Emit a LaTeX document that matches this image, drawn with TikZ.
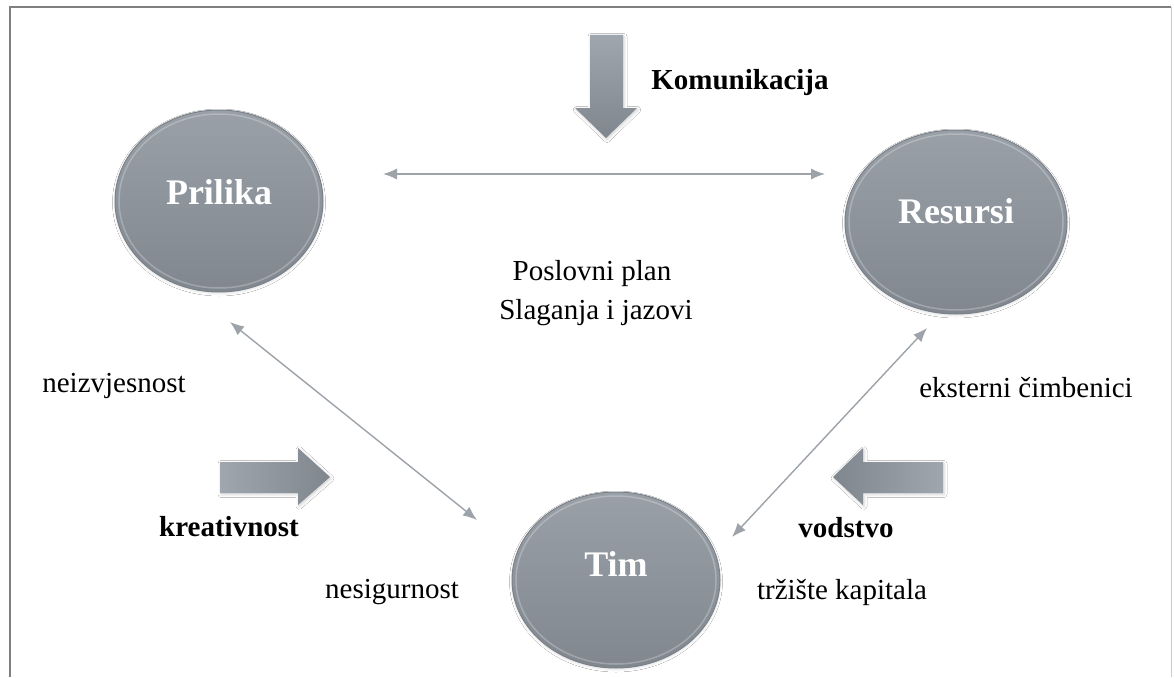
\documentclass[tikz,border=0pt]{standalone}
\usepackage{fontspec}
\setmainfont{Liberation Serif}
\usetikzlibrary{arrows.meta,shapes.geometric,shadows.blur}
\definecolor{ballt}{HTML}{99A0A8}
\definecolor{ballb}{HTML}{80878F}
\definecolor{balledge}{HTML}{7A8189}
\definecolor{connc}{HTML}{9DA3A9}
\definecolor{blockl}{HTML}{A0A6AD}
\definecolor{blockd}{HTML}{7F868E}
\definecolor{framec}{HTML}{7F7F7F}
\tikzset{
  ball/.style={ellipse, draw=balledge, line width=1pt, top color=ballt, bottom color=ballb,
    blur shadow={shadow xshift=0pt, shadow yshift=-1.5pt, shadow blur radius=2.5pt, shadow opacity=12}},
  balltext/.style={text=white, font=\fontsize{36}{40}\selectfont\bfseries},
  rim/.style={draw=white, draw opacity=0.25, line width=1.5pt},
  conn/.style={draw=connc, line width=1.4pt, {Latex[length=14pt,width=11pt]}-{Latex[length=14pt,width=11pt]}},
  blockarrow/.style={draw=none, blur shadow={shadow xshift=1pt, shadow yshift=-1.5pt, shadow blur radius=3pt, shadow opacity=18}},
  lab/.style={text=black, font=\fontsize{29}{34}\selectfont, inner sep=0pt},
  blab/.style={lab, font=\fontsize{29}{34}\selectfont\bfseries},
}
\begin{document}
\begin{tikzpicture}[x=1pt,y=-1pt]
\useasboundingbox (0,0) rectangle (1174,677);
\fill[white] (0,0) rectangle (1174,677);
% frame
\draw[framec, line width=2pt] (10,677) -- (10,7) -- (1171,7);
\draw[framec!40, line width=1pt] (1171,7) -- (1171,677);

% circles
\node[ball, minimum width=208pt, minimum height=182pt,
  label={[balltext, yshift=9pt]center:Prilika}] (P) at (219,201) {};
\node[ball, minimum width=222pt, minimum height=184pt,
  label={[balltext, yshift=11pt]center:Resursi}] (R) at (956,222) {};
\node[ball, minimum width=208pt, minimum height=176pt,
  label={[balltext, yshift=16pt]center:Tim}] (T) at (616,580) {};
\draw[rim] (P.center) ellipse [x radius=100pt, y radius=87pt];
\draw[rim] (R.center) ellipse [x radius=107pt, y radius=88pt];
\draw[rim] (T.center) ellipse [x radius=100pt, y radius=84pt];

% thin connectors
\coordinate (a1) at (383,174);
\coordinate (a2) at (825,174);
\coordinate (b1) at (230,322);
\coordinate (b2) at (477,520);
\coordinate (c1) at (927,328);
\coordinate (c2) at (732,537);
\draw[conn] (a1) -- (a2);
\draw[conn] (b1) -- (b2);
\draw[conn] (c1) -- (c2);

% block arrows
\path[blockarrow, top color=blockl, bottom color=blockd]
  (590,35) -- (623,35) -- (623,108) -- (637,108) -- (606,138) -- (575,108) -- (590,108) -- cycle;
\path[blockarrow, left color=blockl, right color=blockd]
  (220,462) -- (298,462) -- (298,448) -- (330,477) -- (298,505) -- (298,493) -- (220,493) -- cycle;
\path[blockarrow, left color=blockd, right color=blockl]
  (943,462) -- (863,462) -- (863,448) -- (833,477) -- (863,505) -- (863,493) -- (943,493) -- cycle;

% labels
\node[blab] (kom) at (740,83) {Komunikacija};
\node[lab] (pp) at (592,274) {Poslovni plan};
\node[lab] (sj) at (596,313) {Slaganja i jazovi};
\node[lab] (ne) at (114,386) {neizvjesnost};
\node[lab] (ek) at (1026,388) {eksterni čimbenici};
\node[blab] (kr) at (229,527) {kreativnost};
\node[blab] (vo) at (846,528) {vodstvo};
\node[lab] (ns) at (392,592) {nesigurnost};
\node[lab] (tk) at (842,592) {tržište kapitala};
\end{tikzpicture}
\end{document}
